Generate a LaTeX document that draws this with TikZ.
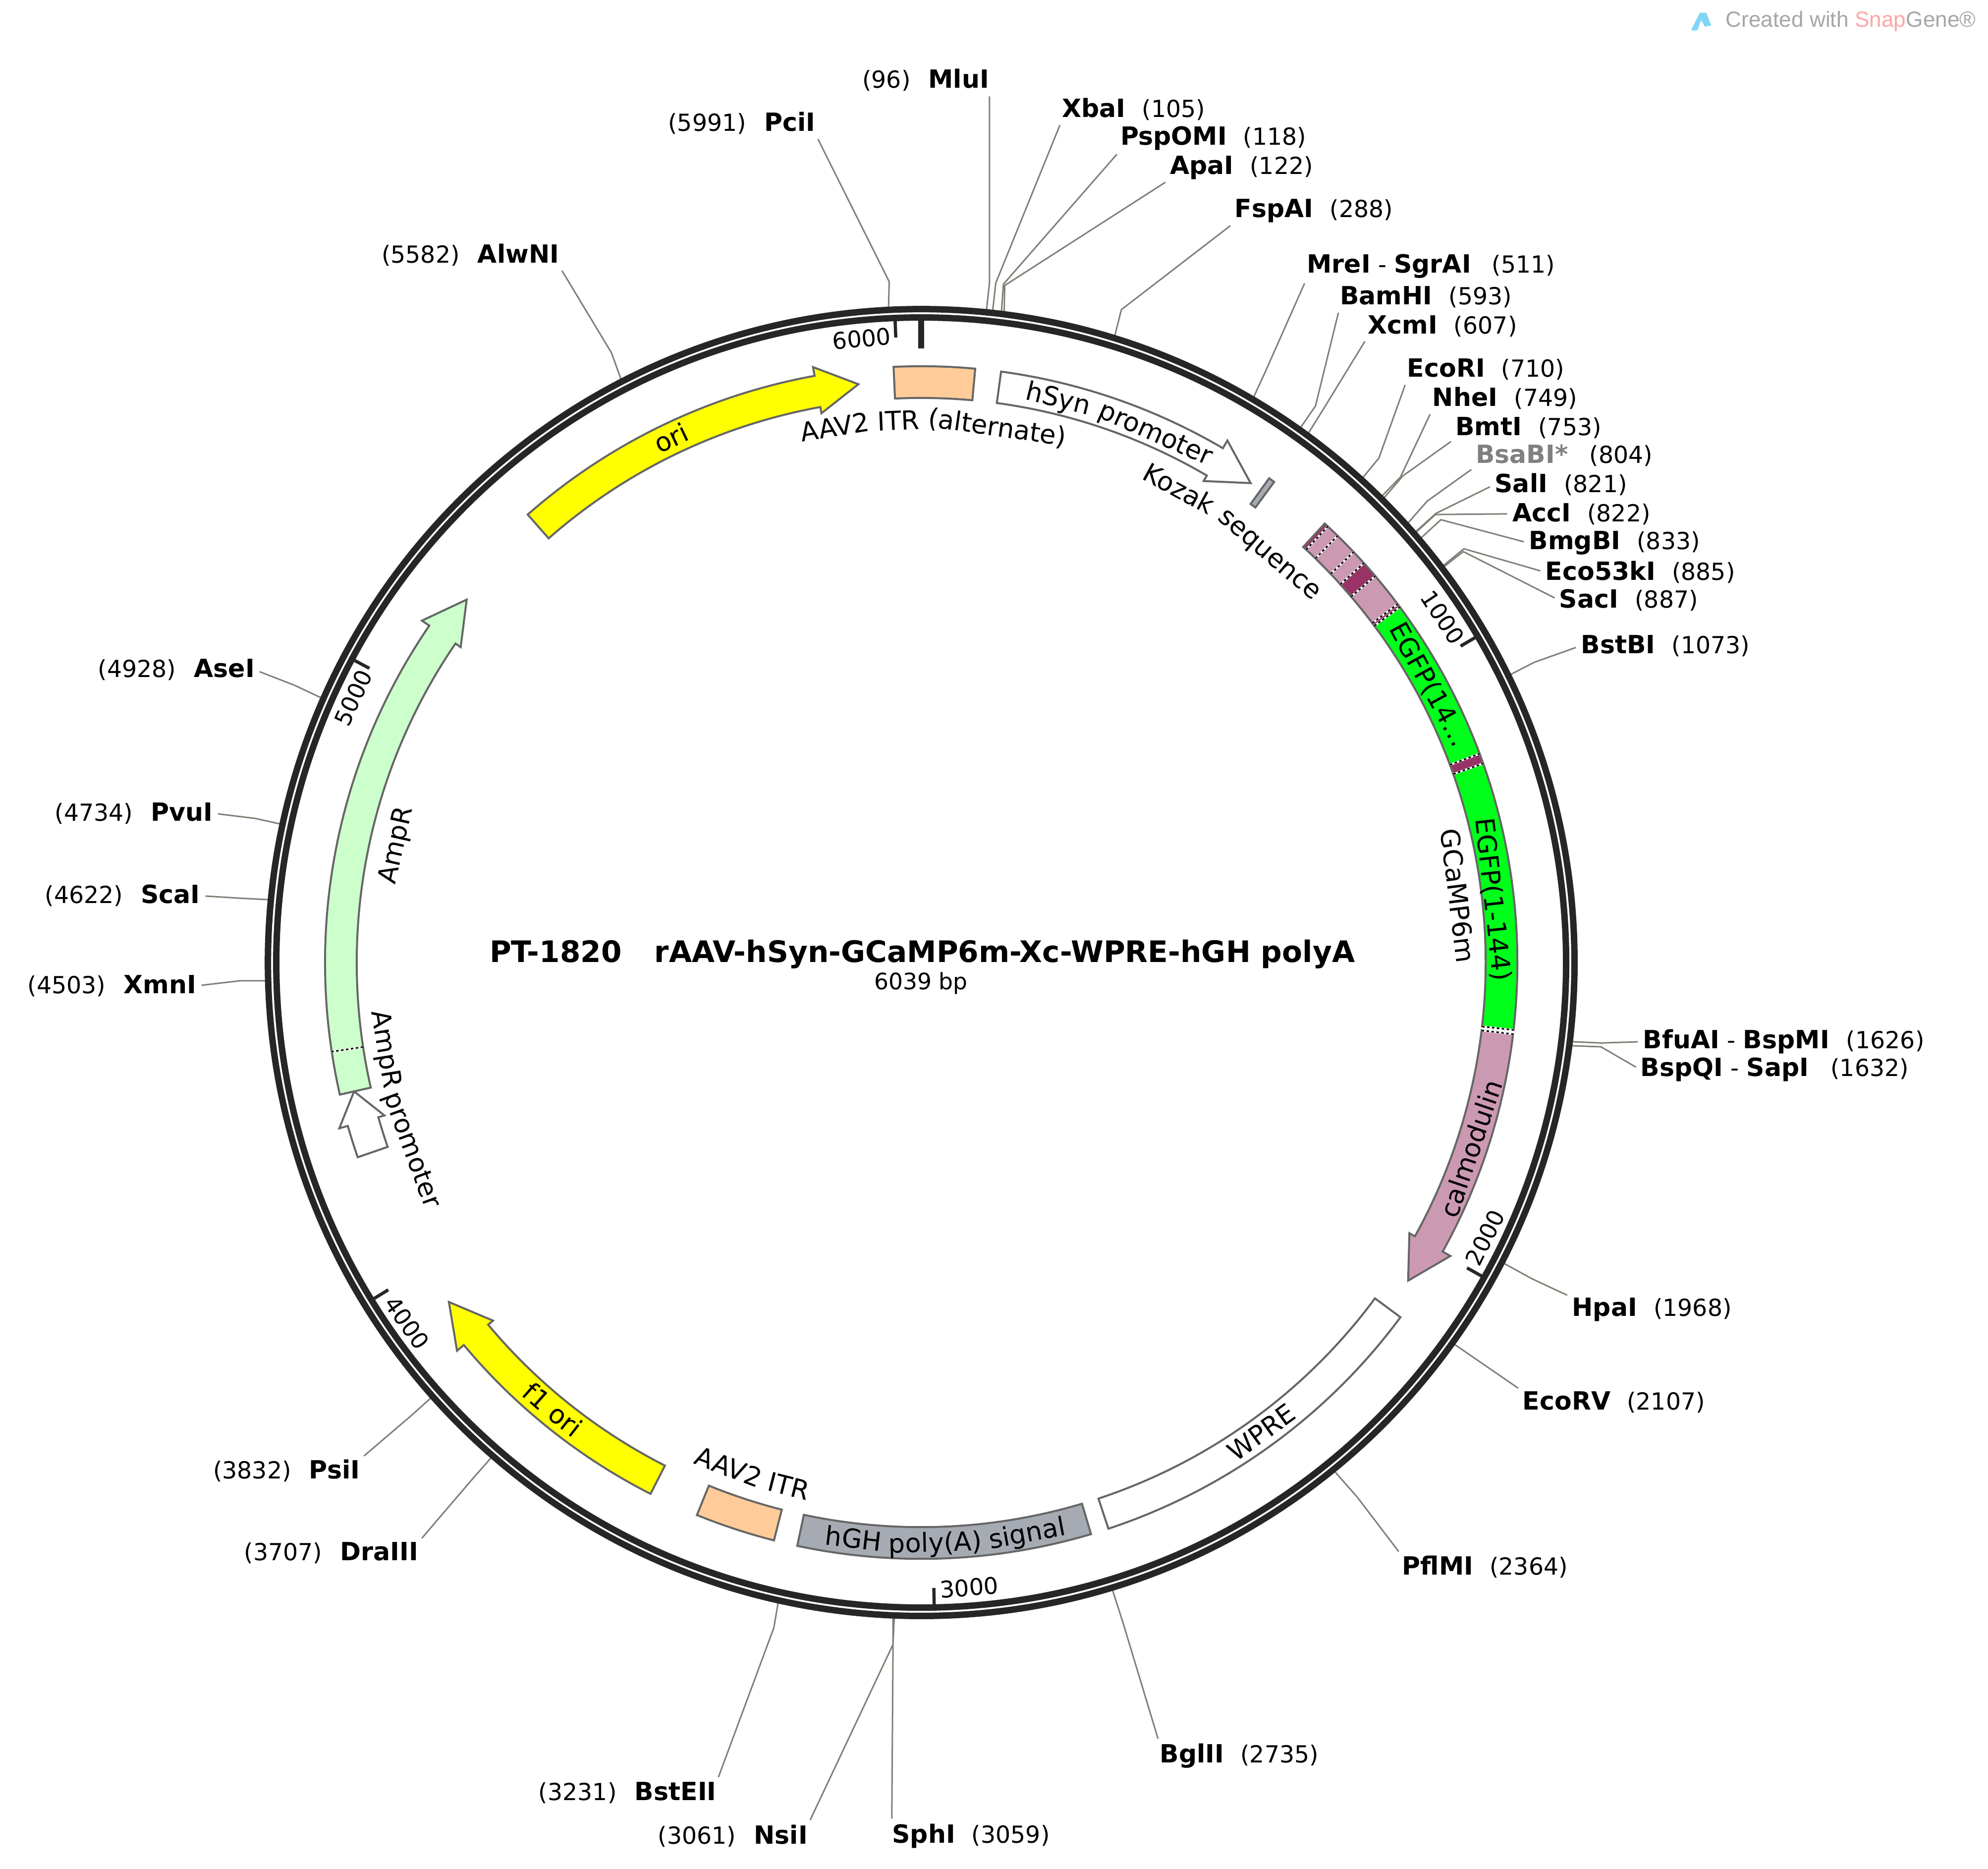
\documentclass[tikz,border=0pt]{standalone}
\usepackage{fontspec}
\setmainfont{DejaVu Sans}
\newfontfamily\markfont{Liberation Sans}

\definecolor{ringblack}{HTML}{262626}
\definecolor{cutgray}{HTML}{808078}
\definecolor{featedge}{HTML}{666666}
\definecolor{peach}{HTML}{FFCC99}
\definecolor{oriyellow}{HTML}{FFFF00}
\definecolor{palegreen}{HTML}{CCFFCC}
\definecolor{signalgray}{HTML}{A6ABB3}
\definecolor{calmpink}{HTML}{CC99B2}
\definecolor{linkdark}{HTML}{993366}
\definecolor{egfpgreen}{HTML}{00FF1A}

\newcommand{\featin}{445}
\newcommand{\featout}{470}
\newcommand{\headin}{440}
\newcommand{\headout}{477}
\newcommand{\featmid}{458.5}

\newcommand{\namefont}{\fontsize{14.4pt}{17pt}\selectfont\bfseries}
\newcommand{\posfont}{\fontsize{13.5pt}{17pt}\selectfont}
\newcommand{\featfont}{\fontsize{15pt}{18pt}\selectfont}
\newcommand{\rsite}[2]{{\namefont #1}\hspace{0.33cm}{\posfont(#2)}}
\newcommand{\lsite}[2]{{\posfont(#1)}\hspace{0.36cm}{\namefont #2}}

% feature with square ends: colour, from, to
\newcommand{\featbox}[3]{
  \draw[feat, fill=#1] (#2:\featout) arc[start angle=#2, end angle=#3, radius=\featout]
    -- (#3:\featin) arc[start angle=#3, end angle=#2, radius=\featin] -- cycle;
}
% feature with a head: colour, tail, head base, tip
\newcommand{\featarrow}[4]{
  \draw[feat, fill=#1] (#2:\featout) arc[start angle=#2, end angle=#3, radius=\featout]
    -- (#3:\headout) -- (#4:\featmid) -- (#3:\headin) -- (#3:\featin)
    arc[start angle=#3, end angle=#2, radius=\featin] -- cycle;
}
% dotted seam between two segments
\newcommand{\seam}[1]{
  \draw[white, line width=0.04cm] (#1:\featin) -- (#1:\featout);
  \draw[black, line width=0.03cm, dash pattern=on 0.05cm off 0.05cm] (#1:\featin) -- (#1:\featout);
}
% word on the circle: name, text, angle, radius
\newcommand{\cwword}[4]{\node[curveword, rotate={#3-90}] (#1) at (#3:#4) {#2};}
\newcommand{\ccwword}[4]{\node[curveword, rotate={#3+90}] (#1) at (#3:#4) {#2};}

\tikzset{
  siteR/.style={anchor=west, inner sep=0pt, yshift=-0.025cm},
  siteL/.style={anchor=east, inner sep=0pt, yshift=-0.025cm},
  cutline/.style={draw=cutgray, line width=0.03cm, shorten >=0.1cm},
  ring/.style={draw=ringblack, line width=0.13cm},
  tick/.style={draw=ringblack, line width=0.065cm},
  ticklabel/.style={inner sep=0pt, font=\fontsize{13.2pt}{16pt}\selectfont},
  feat/.style={draw=featedge, line width=0.04cm, line join=miter},
  curveword/.style={anchor=base, inner sep=0pt, font=\featfont},
}

\begin{document}
\begin{tikzpicture}[x=0.0256cm, y=0.0256cm]
  \useasboundingbox (0,0) rectangle (1567.19,-1472.66);

  % Cut sites on the outer ring
  \begin{scope}[shift={(726.2,-758.6)}]
    \coordinate (pciiS) at (92.86:517);
    \coordinate (mluiS) at (84.28:517);
    \coordinate (xbaiS) at (83.74:517);
    \coordinate (pspomiS) at (82.97:517);
    \coordinate (apaiS) at (82.73:517);
    \coordinate (fspaiS) at (72.83:517);
    \coordinate (mreiS) at (59.54:517);
    \coordinate (bamhiS) at (54.65:517);
    \coordinate (xcmiS) at (53.81:517);
    \coordinate (ecoriS) at (47.67:517);
    \coordinate (nheiS) at (45.35:517);
    \coordinate (bmtiS) at (45.11:517);
    \coordinate (bsabiS) at (42.07:517);
    \coordinate (saliS) at (41.06:517);
    \coordinate (acciS) at (41.0:517);
    \coordinate (bmgbiS) at (40.34:517);
    \coordinate (ecofiveS) at (37.24:517);
    \coordinate (saciS) at (37.12:517);
    \coordinate (bstbiS) at (26.04:517);
    \coordinate (bfuaiS) at (-6.93:517);
    \coordinate (bspqiS) at (-7.29:517);
    \coordinate (hpaiS) at (-27.3:517);
    \coordinate (ecorvS) at (-35.6:517);
    \coordinate (pflmiS) at (-50.9:517);
    \coordinate (bgliiS) at (-73.04:517);
    \coordinate (sphiS) at (-92.36:517);
    \coordinate (nsiiS) at (-92.47:517);
    \coordinate (bsteiiS) at (-102.6:517);
    \coordinate (draiiiS) at (-130.98:517);
    \coordinate (psiiS) at (-138.4:517);
    \coordinate (xmniS) at (-178.4:517);
    \coordinate (scaiS) at (174.5:517);
    \coordinate (pvuiS) at (167.8:517);
    \coordinate (aseiS) at (156.2:517);
    \coordinate (alwniS) at (117.24:517);
  \end{scope}

  % Labels and their lines, clockwise from the top
  \node[siteL] (pcii) at (643,-96) {\lsite{5991}{PciI}};
  \node[siteL] (mlui) at (780,-62) {\lsite{96}{MluI}};
  \node[siteR] (xbai) at (837,-85) {\rsite{XbaI}{105}};
  \node[siteR] (pspomi) at (883,-108) {\rsite{PspOMI}{118}};
  \node[siteR] (apai) at (922,-131) {\rsite{ApaI}{122}};
  \node[siteR] (fspai) at (973,-165) {\rsite{FspAI}{288}};
  \node[siteR] (mrei) at (1030,-209) {{\namefont MreI}{\posfont\ -\ }{\namefont SgrAI}\hspace{0.42cm}{\posfont(511)}};
  \node[siteR] (bamhi) at (1056,-233) {\rsite{BamHI}{593}};
  \node[siteR] (xcmi) at (1078,-256) {\rsite{XcmI}{607}};
  \node[siteR] (ecori) at (1109,-290) {\rsite{EcoRI}{710}};
  \node[siteR] (nhei) at (1129,-313) {\rsite{NheI}{749}};
  \node[siteR] (bmti) at (1147,-336) {\rsite{BmtI}{753}};
  \node[siteR] (bsabi) at (1163,-358) {{\namefont\color{gray}BsaBI*}\hspace{0.43cm}{\posfont(804)}};
  \node[siteR] (sali) at (1178,-381) {\rsite{SalI}{821}};
  \node[siteR] (acci) at (1192,-404) {\rsite{AccI}{822}};
  \node[siteR] (bmgbi) at (1205,-427) {\rsite{BmgBI}{833}};
  \node[siteR] (ecofive) at (1218,-450) {\rsite{Eco53kI}{885}};
  \node[siteR] (saci) at (1229,-472) {\rsite{SacI}{887}};
  \node[siteR] (bstbi) at (1246,-508) {\rsite{BstBI}{1073}};
  \node[siteR] (bfuai) at (1295,-820) {{\namefont BfuAI}{\posfont\ -\ }{\namefont BspMI}\hspace{0.34cm}{\posfont(1626)}};
  \node[siteR] (bspqi) at (1293,-842) {{\namefont BspQI}{\posfont\ -\ }{\namefont SapI}\hspace{0.44cm}{\posfont(1632)}};
  \node[siteR] (hpai) at (1239,-1031) {\rsite{HpaI}{1968}};
  \node[siteR] (ecorv) at (1200,-1104) {\rsite{EcoRV}{2107}};
  \node[siteR] (pflmi) at (1105,-1234) {\rsite{PflMI}{2364}};
  \node[siteR] (bglii) at (914,-1383) {\rsite{BglII}{2735}};
  \node[siteR] (sphi) at (703,-1446) {\rsite{SphI}{3059}};
  \node[siteL] (nsii) at (637,-1446) {\lsite{3061}{NsiI}};
  \node[siteL] (bsteii) at (565,-1412) {\lsite{3231}{BstEII}};
  \node[siteL] (draiii) at (330,-1223) {\lsite{3707}{DraIII}};
  \node[siteL] (psii) at (284,-1158) {\lsite{3832}{PsiI}};
  \node[siteL] (xmni) at (155,-776) {\lsite{4503}{XmnI}};
  \node[siteL] (scai) at (158,-705) {\lsite{4622}{ScaI}};
  \node[siteL] (pvui) at (168,-640) {\lsite{4734}{PvuI}};
  \node[siteL] (asei) at (201,-527) {\lsite{4928}{AseI}};
  \node[siteL] (alwni) at (441,-200) {\lsite{5582}{AlwNI}};

  \draw[cutline] (pciiS) -- (701,-222) -- (pcii.south east);
  \draw[cutline] (mluiS) -- (780,-223) -- (mlui.south east);
  \draw[cutline] (xbaiS) -- (785,-223) -- (xbai.south west);
  \draw[cutline] (pspomiS) -- (791,-224) -- (pspomi.south west);
  \draw[cutline] (apaiS) -- (792,-225) -- (apai.south west);
  \draw[cutline] (fspaiS) -- (884,-244) -- (fspai.south west);
  \draw[cutline] (mreiS) -- (997,-294) -- (mrei.south west);
  \draw[cutline] (bamhiS) -- (1037,-320) -- (bamhi.south west);
  \draw[cutline] (xcmiS) -- (1043.5,-322) -- (xcmi.south west);
  \draw[cutline] (ecoriS) -- (1087,-361) -- (ecori.south west);
  \draw[cutline] (nheiS) -- (1104,-376) -- (nhei.south west);
  \draw[cutline] (bmtiS) -- (1106,-375) -- (bmti.south west);
  \draw[cutline] (bsabiS) -- (1125,-395) -- (bsabi.south west);
  \draw[cutline] (saliS) -- (1132,-404.6) -- (sali.west);
  \draw[cutline] (acciS) -- (1131.6,-405.5) -- (acci.west);
  \draw[cutline] (bmgbiS) -- (1135.9,-409.6) -- (bmgbi.west);
  \draw[cutline] (ecofiveS) -- (1154,-432.5) -- (ecofive.west);
  \draw[cutline] (saciS) -- (1153.5,-434.7) -- (saci.west);
  \draw[cutline] (bstbiS) -- (1209.4,-522) -- (bstbi.west);
  \draw[cutline] (bfuaiS) -- (1262,-822) -- (bfuai.west);
  \draw[cutline] (bspqiS) -- (1262,-825) -- (bspqi.west);
  \draw[cutline] (hpaiS) -- (1208,-1008) -- (hpai.north west);
  \draw[cutline] (ecorvS) -- (1172,-1077) -- (ecorv.north west);
  \draw[cutline] (pflmiS) -- (1070,-1180) -- (pflmi.north west);
  \draw[cutline] (bgliiS) -- (885,-1278) -- (bglii.north west);
  \draw[cutline] (sphiS) -- (704,-1295) -- (sphi.north west);
  \draw[cutline] (nsiiS) -- (704,-1296) -- (nsii.north east);
  \draw[cutline] (bsteiiS) -- (610,-1283) -- (bsteii.north east);
  \draw[cutline] (draiiiS) -- (373,-1165) -- (draiii.north east);
  \draw[cutline] (psiiS) -- (325,-1115) -- (psii.north east);
  \draw[cutline] (xmniS) -- (189,-773) -- (xmni.east);
  \draw[cutline] (scaiS) -- (191,-708) -- (scai.east);
  \draw[cutline] (pvuiS) -- (201,-645) -- (pvui.east);
  \draw[cutline] (aseiS) -- (232,-540) -- (asei.east);
  \draw[cutline] (alwniS) -- (482,-278) -- (alwni.south east);

  \begin{scope}[shift={(726.2,-758.6)}]
    % Backbone
    \draw[ring] (0,0) circle[radius=515];
    \draw[ring] (0,0) circle[radius=508.4];

    % Ticks
    \draw[tick, line width=0.12cm] (90:506) -- (90:484);
    \draw[tick] (30.39:506) -- (30.39:493);
    \draw[tick] (-29.22:506) -- (-29.22:493);
    \draw[tick] (-88.84:506) -- (-88.84:493);
    \draw[tick] (-148.45:506) -- (-148.45:493);
    \draw[tick] (151.94:506) -- (151.94:493);
    \draw[tick] (92.33:506) -- (92.33:493);
    \node[ticklabel, rotate=-56.5] (tick1k) at (33.5:493) {1000};
    \node[ticklabel, rotate=63.8] (tick2k) at (-26.0:494.5) {2000};
    \node[ticklabel, rotate=4.4] (tick3k) at (-85.6:494) {3000};
    \node[ticklabel, rotate=-55] (tick4k) at (-145:495) {4000};
    \node[ticklabel, rotate=65] (tick5k) at (155:494) {5000};
    \node[ticklabel, rotate=5.3] (tick6k) at (95.45:494) {6000};

    % Features
    \featarrow{oriyellow}{131.3}{100.3}{96.2}
    \featbox{peach}{92.66}{84.8}
    \featarrow{white}{82.3}{59.6}{55.5}
    \featbox{signalgray}{54.3}{53.7}

    % GCaMP6m, in pieces
    \featbox{calmpink}{47.4}{36.5}
    \featbox{linkdark}{47.4}{47.0}
    \featbox{linkdark}{42.05}{40.4}
    \featbox{linkdark}{36.95}{36.6}
    \featbox{egfpgreen}{36.6}{20.5}
    \featbox{linkdark}{20.5}{19.5}
    \featbox{egfpgreen}{19.5}{-6.5}
    \featarrow{calmpink}{-6.9}{-29}{-33.15}
    \seam{47.0}
    \seam{45.7}
    \seam{43.5}
    \seam{42.05}
    \seam{40.4}
    \seam{36.95}
    \seam{36.6}
    \seam{20.5}
    \seam{19.5}
    \seam{-6.5}
    \seam{-6.9}

    \featbox{white}{-36.5}{-71.7}
    \featbox{signalgray}{-73.45}{-102}
    \featbox{peach}{-104.3}{-112.1}
    \featarrow{oriyellow}{-117}{-140.1}{-144.3}
    \featarrow{white}{199.06}{195.9}{192.8}
    \featarrow{palegreen}{192.8}{145.6}{141.4}
    \seam{188.6}

    % Feature names, word by word
    \cwword{oriname}{ori}{115.5}{450.5}
    \cwword{itrtopa}{AAV2}{99.2}{420}
    \cwword{itrtopb}{ITR}{92.4}{420}
    \cwword{itrtopc}{(alternate)}{81.9}{419}
    \cwword{hsyna}{hSyn}{76.33}{450.5}
    \cwword{hsynb}{promoter}{66.1}{449.5}
    \cwword{kozaka}{Kozak}{61.43}{418}
    \cwword{kozakb}{sequence}{49.5}{417}
    \cwword{egfpa}{EGFP(14…}{28.7}{449.5}
    \cwword{egfpb}{EGFP(1-144)}{6.3}{446.5}
    \cwword{gcampname}{GCaMP6m}{7.1}{419}
    \ccwword{calmname}{calmodulin}{-18.7}{465}
    \ccwword{wprename}{WPRE}{-54.1}{464.5}
    \ccwword{hgha}{hGH}{-96.7}{464.5}
    \ccwword{hghb}{poly(A)}{-88.6}{464.5}
    \ccwword{hghc}{signal}{-79.5}{464.5}
    \ccwword{itrbota}{AAV2}{-110.9}{433}
    \ccwword{itrbotb}{ITR}{-104.2}{433}
    \ccwword{fonea}{f1}{-131.55}{464.5}
    \ccwword{foneb}{ori}{-127.85}{464.5}
    \ccwword{ampproma}{AmpR}{189.2}{434}
    \ccwword{amppromb}{promoter}{200.2}{434}
    \cwword{ampname}{AmpR}{167.4}{418}
  \end{scope}

  % Title
  \node[inner sep=0pt, font=\fontsize{17pt}{20pt}\selectfont\bfseries] (title) at (727,-752) {PT-1820\hspace{0.66cm}rAAV-hSyn-GCaMP6m-Xc-WPRE-hGH polyA};
  \node[inner sep=0pt, font=\fontsize{13pt}{16pt}\selectfont] (size) at (726,-775) {6039 bp};

  % Mark in the corner
  \fill[cyan!50] (1333,-24) -- (1340,-10) -- (1345,-10) -- (1349,-20) -- (1344,-21) -- (1341,-16) -- (1338,-24) -- cycle;
  \node[anchor=west, inner sep=0pt, text=black!35, font=\markfont\fontsize{12.6pt}{16pt}\selectfont] (mark) at (1360,-17) {Created with \textcolor{red!35}{Snap}Gene®};
\end{tikzpicture}
\end{document}
